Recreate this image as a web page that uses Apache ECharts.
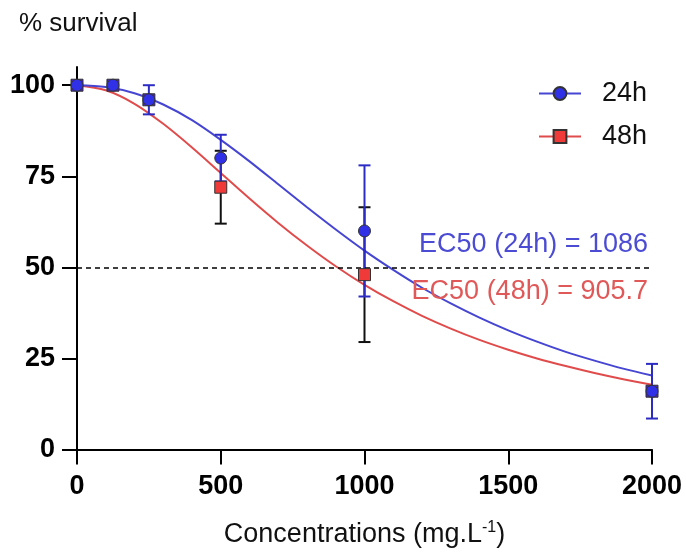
<!DOCTYPE html>
<html>
<head>
<meta charset="utf-8">
<script src="https://cdn.jsdelivr.net/npm/echarts@6/dist/echarts.min.js"></script>
<style>
  html, body { margin: 0; padding: 0; background: #fff; }
  #chart { width: 686px; height: 553px; }
</style>
</head>
<body>
<div id="chart"></div>
<script>
// concentrations tested (mg/L)
var conc = [0, 125, 250, 500, 1000, 2000];
// mean % survival and error (SD) per exposure time
var mean24 = [100, 100, 96, 80, 60, 16];
var err24 = [0, 0, 4, 6.4, 18, 7.5];
var mean48 = [100, 100, 96, 72, 48, 16];
var err48 = [0, 0, 0, 10, 18.5, 0];

// fitted dose-response curves, every 100 mg/L
var curveX = [0, 100, 200, 300, 400, 500, 600, 700, 800, 900, 1000,
              1100, 1200, 1300, 1400, 1500, 1600, 1700, 1800, 1900, 2000];
var curve24 = [100, 99.5, 97.8, 94.7, 90.4, 85.0, 79.1, 72.8, 66.5, 60.4, 54.6,
               49.3, 44.4, 40.1, 36.2, 32.7, 29.6, 26.8, 24.4, 22.2, 20.3];
var curve48 = [100, 98.6, 94.9, 89.4, 82.9, 75.9, 68.9, 62.2, 56.0, 50.3, 45.2,
               40.7, 36.7, 33.2, 30.1, 27.4, 25.0, 22.9, 21.0, 19.3, 17.8];

var ec50 = [1086, 905.7];
var yTicks = [0, 25, 50, 75, 100];

var font = 'Arial, "Liberation Sans", sans-serif';
var blueLine = '#4646d2', redLine = '#e04c4c';
var blueFill = '#3030e6', redFill = '#f03a3a', mixFill = '#4a22c8';

function pairs(xs, ys) {
    return xs.map(function (x, i) { return [x, ys[i]]; });
}

function errorBars(color) {
    return function (params, api) {
        var x = api.value(0), y = api.value(1), e = api.value(2);
        if (!e) return null;
        var top = api.coord([x, y + e]);
        var bot = api.coord([x, y - e]);
        var w = 6;
        var st = { stroke: color, lineWidth: 2 };
        return {
            type: 'group',
            children: [
                { type: 'line', shape: { x1: top[0], y1: top[1], x2: bot[0], y2: bot[1] }, style: st },
                { type: 'line', shape: { x1: top[0] - w, y1: top[1], x2: top[0] + w, y2: top[1] }, style: st },
                { type: 'line', shape: { x1: bot[0] - w, y1: bot[1], x2: bot[0] + w, y2: bot[1] }, style: st }
            ]
        };
    };
}

// squares hidden under a circle look purple in the original
var pts48 = conc.map(function (x, i) {
    var same = mean48[i] === mean24[i];
    return {
        value: [x, mean48[i]],
        itemStyle: { color: same ? mixFill : redFill }
    };
});

var myChart = echarts.init(document.getElementById('chart'));

var option = {
    animation: false,
    title: {
        text: '% survival',
        left: 14,
        top: 6,
        textStyle: { fontFamily: font, fontSize: 26, fontWeight: 'normal', color: '#111' }
    },
    legend: {
        data: ['24h', '48h'],
        orient: 'vertical',
        left: 533,
        top: 75,
        itemWidth: 42,
        itemHeight: 16,
        itemGap: 16,
        textStyle: { fontFamily: font, fontSize: 27, color: '#111', padding: [0, 0, 0, 16] }
    },
    grid: { left: 77, right: 34, top: 67, bottom: 101 },
    xAxis: {
        type: 'value',
        min: 0,
        max: 2000,
        interval: 500,
        name: 'Concentrations (mg.L{sup|-1})',
        nameLocation: 'middle',
        nameGap: 70,
        nameTextStyle: {
            fontFamily: font, fontSize: 27, color: '#111',
            rich: { sup: { fontFamily: font, fontSize: 16, color: '#111', verticalAlign: 'top', padding: [0, 0, 14, 0] } }
        },
        axisLine: { onZero: false, lineStyle: { color: '#000', width: 2 } },
        axisTick: { length: 15, lineStyle: { color: '#000', width: 2 } },
        axisLabel: {
            margin: 24, fontFamily: font, fontSize: 27, fontWeight: 'bold', color: '#000',
            formatter: function (v) { return String(v); }
        },
        splitLine: { show: false }
    },
    yAxis: {
        type: 'value',
        min: 0,
        max: 105,
        axisLine: { show: true, lineStyle: { color: '#000', width: 2 } },
        axisTick: { show: true, length: 15, customValues: yTicks, lineStyle: { color: '#000', width: 2 } },
        axisLabel: { margin: 22, customValues: yTicks, fontFamily: font, fontSize: 27, fontWeight: 'bold', color: '#000' },
        splitLine: { show: false }
    },
    graphic: [
        {
            type: 'text', right: 38, top: 231, z: 10,
            style: { text: 'EC50 (24h) = ' + ec50[0], fontFamily: font, fontSize: 27, fill: '#4b4bd4' }
        },
        {
            type: 'text', right: 38, top: 278, z: 10,
            style: { text: 'EC50 (48h) = ' + ec50[1], fontFamily: font, fontSize: 27, fill: '#e05858' }
        }
    ],
    series: [
        {
            name: '48h',
            type: 'line',
            data: pairs(curveX, curve48),
            smooth: 0.3,
            showSymbol: false,
            symbol: 'rect',
            symbolSize: 12,
            itemStyle: { color: redFill, borderColor: '#333', borderWidth: 1 },
            lineStyle: { color: redLine, width: 2 },
            z: 2
        },
        {
            name: '24h',
            type: 'line',
            data: pairs(curveX, curve24),
            smooth: 0.3,
            showSymbol: false,
            symbol: 'circle',
            symbolSize: 12,
            itemStyle: { color: blueFill, borderColor: '#333', borderWidth: 1 },
            lineStyle: { color: blueLine, width: 2 },
            markLine: {
                silent: true,
                symbol: 'none',
                label: { show: false },
                lineStyle: { color: '#000', type: [5, 4], width: 1.5 },
                data: [{ yAxis: 50 }]
            },
            z: 2
        },
        {
            name: 'err48',
            type: 'custom',
            renderItem: errorBars('#111'),
            data: conc.map(function (x, i) { return [x, mean48[i], err48[i]]; }),
            z: 3
        },
        {
            name: 'err24',
            type: 'custom',
            renderItem: errorBars('#2c2cc4'),
            data: conc.map(function (x, i) { return [x, mean24[i], err24[i]]; }),
            z: 4
        },
        {
            name: 'pts48',
            type: 'scatter',
            symbol: 'rect',
            symbolSize: 12,
            itemStyle: { borderColor: '#333', borderWidth: 1, opacity: 1 },
            data: pts48,
            z: 5
        },
        {
            name: 'pts24',
            type: 'scatter',
            symbol: 'circle',
            symbolSize: 12,
            itemStyle: { color: blueFill, borderColor: '#333', borderWidth: 1, opacity: 1 },
            data: pairs(conc, mean24),
            z: 6
        }
    ]
};

myChart.setOption(option);
window.onresize = myChart.resize;
</script>
</body>
</html>
